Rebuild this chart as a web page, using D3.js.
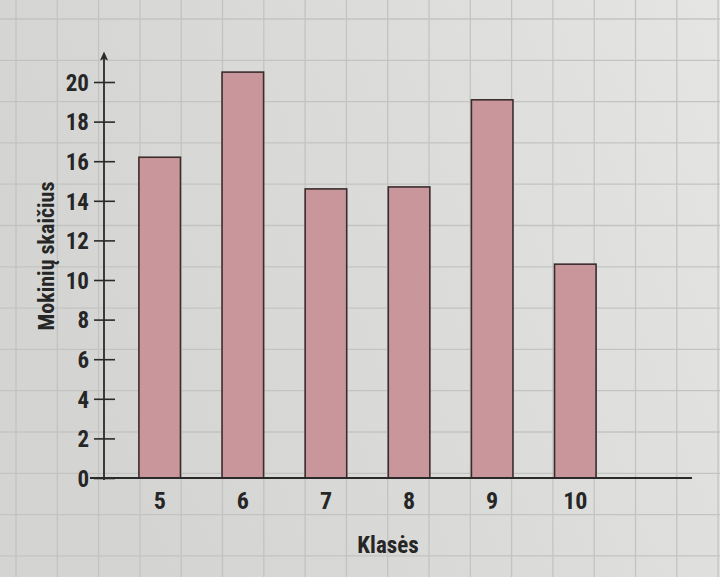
<!DOCTYPE html>
<html>
<head>
<meta charset="utf-8">
<script src="https://cdn.jsdelivr.net/npm/d3@7"></script>
<style>
  html, body { margin: 0; padding: 0; background: #dcdcda; }
  svg { display: block; }
  .lbl { font-family: "Liberation Sans Narrow", "Roboto Condensed", Roboto, sans-serif; fill: #262626; font-weight: bold; }
</style>
</head>
<body>
<svg id="chart" width="720" height="577"></svg>
<script>
// data
const classes = ['5', '6', '7', '8', '9', '10']
const pupils = [16.2, 20.5, 14.6, 14.7, 19.1, 10.8]
const yTicks = [0, 2, 4, 6, 8, 10, 12, 14, 16, 18, 20]

const W = 720, H = 577
const svg = d3.select('#chart')

// paper background with a bit of light falloff
const defs = svg.append('defs')
const grad = defs.append('linearGradient').attr('id', 'paper')
    .attr('x1', '0').attr('y1', '0.3').attr('x2', '1').attr('y2', '0')
grad.append('stop').attr('offset', '0%').attr('stop-color', '#d4d5d3')
grad.append('stop').attr('offset', '55%').attr('stop-color', '#dcdddb')
grad.append('stop').attr('offset', '100%').attr('stop-color', '#e5e6e4')
svg.append('rect').attr('width', W).attr('height', H).attr('fill', 'url(#paper)')

// squared paper lines
const paper = svg.append('g').attr('stroke', '#c3c4c2').attr('stroke-width', 1.3)
d3.range(16, W, 41.3).forEach(x => {
    paper.append('line').attr('x1', x).attr('x2', x).attr('y1', 0).attr('y2', H)
})
d3.range(19, H, 41.3).forEach(y => {
    paper.append('line').attr('x1', 0).attr('x2', W).attr('y1', y).attr('y2', y)
})

const axisX = 104, baseY = 478

const x = d3.scaleBand()
    .domain(classes)
    .range([axisX, 631])
    .paddingInner(0.5)
    .paddingOuter(0.42)

const y = d3.scaleLinear()
    .domain([0, 20])
    .range([baseY, 82])

// bars
svg.append('g')
    .selectAll('rect')
    .data(pupils)
    .enter()
    .append('rect')
    .attr('x', (d, i) => x(classes[i]))
    .attr('y', d => y(d))
    .attr('width', x.bandwidth())
    .attr('height', d => y(0) - y(d))
    .attr('fill', '#c9979b')
    .attr('stroke', '#3b2c2d')
    .attr('stroke-width', 1.6)

// y axis
const yAxis = svg.append('g')
    .attr('transform', `translate(${axisX},0)`)
    .call(d3.axisLeft(y).tickValues(yTicks).tickSize(10).tickPadding(5))
yAxis.select('.domain').remove()
yAxis.selectAll('.tick line').attr('x1', -10).attr('x2', 11)
    .attr('stroke', '#2a2a2a').attr('stroke-width', 1.6)
yAxis.selectAll('.tick text')
    .attr('class', 'lbl')
    .attr('font-size', 23)
    .attr('fill', '#262626')
    .attr('dy', '0.36em')

defs.append('marker').attr('id', 'arrow')
    .attr('viewBox', '0 0 10 10').attr('refX', 5).attr('refY', 5)
    .attr('markerWidth', 8).attr('markerHeight', 5)
    .attr('orient', 'auto')
    .append('path').attr('d', 'M0,0.5 L10,5 L0,9.5 L2,5 Z').attr('fill', '#2a2a2a')

svg.append('line')
    .attr('x1', axisX).attr('x2', axisX)
    .attr('y1', baseY + 2).attr('y2', 56)
    .attr('stroke', '#2a2a2a').attr('stroke-width', 1.8)
    .attr('marker-end', 'url(#arrow)')

// x axis
svg.append('line')
    .attr('x1', 90).attr('x2', 692)
    .attr('y1', baseY).attr('y2', baseY)
    .attr('stroke', '#2a2a2a').attr('stroke-width', 2)

const xAxis = svg.append('g')
    .attr('transform', `translate(0,${baseY})`)
    .call(d3.axisBottom(x).tickSize(0).tickPadding(14))
xAxis.select('.domain').remove()
xAxis.selectAll('.tick text')
    .attr('class', 'lbl')
    .attr('font-size', 24)
    .attr('fill', '#262626')

// titles
svg.append('text')
    .attr('class', 'lbl')
    .attr('x', 388).attr('y', 553)
    .attr('text-anchor', 'middle')
    .attr('font-size', 23)
    .text('Klasės')

svg.append('text')
    .attr('class', 'lbl')
    .attr('transform', 'translate(54,256) rotate(-90)')
    .attr('text-anchor', 'middle')
    .attr('font-size', 22)
    .text('Mokinių skaičius')
</script>
</body>
</html>
